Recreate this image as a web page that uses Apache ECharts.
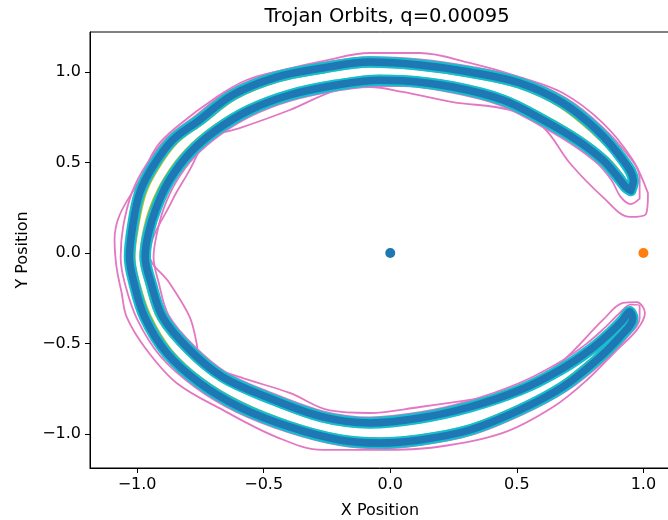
<!DOCTYPE html>
<html>
<head>
<meta charset="utf-8">
<script src="https://cdn.jsdelivr.net/npm/echarts@6/dist/echarts.min.js"></script>
<style>
  html, body { margin: 0; padding: 0; background: #fff; }
  #main { width: 668px; height: 520px; }
</style>
</head>
<body>
<div id="main"></div>
<script>
// tick positions on both axes
var tickValues = [-1.0, -0.5, 0.0, 0.5, 1.0];

// main horseshoe track (blue / cyan)
var bandPath = [
  [0.950, 0.345], [0.960, 0.400], [0.919, 0.514], [0.816, 0.680], [0.682, 0.829],
  [0.512, 0.939], [0.314, 1.000], [0.117, 1.039], [-0.081, 1.055], [-0.267, 1.022],
  [-0.449, 0.972], [-0.623, 0.873], [-0.753, 0.735], [-0.860, 0.624], [-0.939, 0.475],
  [-0.990, 0.331], [-1.018, 0.144], [-1.030, -0.022], [-1.012, -0.166], [-0.970, -0.354],
  [-0.883, -0.552], [-0.753, -0.718], [-0.595, -0.851], [-0.397, -0.961], [-0.200, -1.033],
  [-0.042, -1.050], [0.117, -1.033], [0.314, -0.978], [0.512, -0.867], [0.682, -0.740],
  [0.816, -0.591], [0.907, -0.464], [0.958, -0.360], [0.945, -0.325], [0.919, -0.370],
  [0.868, -0.442], [0.789, -0.536], [0.670, -0.646], [0.512, -0.757], [0.314, -0.851],
  [0.117, -0.912], [-0.081, -0.939], [-0.267, -0.906], [-0.488, -0.796], [-0.662, -0.685],
  [-0.792, -0.536], [-0.899, -0.354], [-0.945, -0.166], [-0.968, -0.022], [-0.955, 0.110],
  [-0.923, 0.254], [-0.872, 0.403], [-0.792, 0.552], [-0.686, 0.680], [-0.555, 0.790],
  [-0.397, 0.873], [-0.211, 0.928], [-0.042, 0.955], [0.049, 0.952], [0.247, 0.917],
  [0.445, 0.845], [0.603, 0.735], [0.737, 0.624], [0.840, 0.514], [0.899, 0.420],
  [0.930, 0.365], [0.950, 0.345]
];

// slightly narrower orbit (olive)
var olivePath = [
  [0.942, 0.362], [0.945, 0.410], [0.902, 0.515], [0.800, 0.665], [0.670, 0.810],
  [0.505, 0.918], [0.312, 0.978], [0.117, 1.017], [-0.081, 1.033], [-0.262, 1.000],
  [-0.440, 0.951], [-0.608, 0.856], [-0.737, 0.721], [-0.842, 0.612], [-0.919, 0.466],
  [-0.969, 0.325], [-0.998, 0.142], [-1.012, -0.022], [-0.994, -0.164], [-0.950, -0.345],
  [-0.866, -0.538], [-0.740, -0.700], [-0.585, -0.830], [-0.392, -0.939], [-0.198, -1.011],
  [-0.042, -1.028], [0.117, -1.011], [0.310, -0.957], [0.503, -0.848], [0.668, -0.725],
  [0.800, -0.580], [0.890, -0.458], [0.942, -0.362], [0.935, -0.340], [0.905, -0.382],
  [0.855, -0.455], [0.776, -0.551], [0.658, -0.662], [0.505, -0.776], [0.312, -0.872],
  [0.117, -0.933], [-0.081, -0.960], [-0.270, -0.927], [-0.495, -0.815], [-0.673, -0.700],
  [-0.806, -0.549], [-0.916, -0.362], [-0.962, -0.170], [-0.985, -0.022], [-0.974, 0.112],
  [-0.944, 0.260], [-0.890, 0.414], [-0.808, 0.566], [-0.699, 0.697], [-0.565, 0.809],
  [-0.403, 0.893], [-0.214, 0.949], [-0.042, 0.976], [0.049, 0.974], [0.250, 0.938],
  [0.452, 0.864], [0.615, 0.752], [0.752, 0.638], [0.856, 0.525], [0.918, 0.425],
  [0.942, 0.362]
];

// wide pink orbit with chords and tip loops
var pinkWide = [
  [1.018, 0.331], [0.958, 0.514], [0.840, 0.718], [0.682, 0.884], [0.512, 0.972],
  [0.314, 1.050], [0.117, 1.105], [-0.081, 1.105], [-0.267, 1.060], [-0.425, 1.011],
  [-0.567, 0.956], [-0.686, 0.862], [-0.844, 0.696], [-0.923, 0.586], [-0.990, 0.403],
  [-1.069, 0.210], [-1.089, 0.072], [-1.081, -0.080], [-1.061, -0.221], [-1.041, -0.354],
  [-0.962, -0.536], [-0.844, -0.718], [-0.662, -0.867], [-0.449, -1.017], [-0.267, -1.088],
  [-0.042, -1.088], [0.184, -1.072], [0.445, -0.994], [0.643, -0.851], [0.777, -0.702],
  [0.895, -0.536], [0.974, -0.425], [1.006, -0.331], [0.974, -0.271], [0.919, -0.276],
  [0.840, -0.370], [0.670, -0.610], [0.512, -0.735], [0.445, -0.780], [0.314, -0.812],
  [0.117, -0.851], [-0.081, -0.884], [-0.239, -0.870], [-0.397, -0.773], [-0.595, -0.685],
  [-0.753, -0.591], [-0.765, -0.497], [-0.792, -0.354], [-0.872, -0.166], [-0.951, -0.010],
  [-0.860, 0.293], [-0.792, 0.459], [-0.753, 0.569], [-0.725, 0.635], [-0.595, 0.690],
  [-0.397, 0.790], [-0.211, 0.900], [-0.081, 0.917], [0.049, 0.890], [0.247, 0.834],
  [0.472, 0.790], [0.603, 0.696], [0.709, 0.497], [0.840, 0.309], [0.947, 0.199],
  [1.010, 0.215], [1.018, 0.331]
];

// pink orbit hugging the band
var pinkNear = [
  [0.985, 0.300], [0.985, 0.420], [0.945, 0.530], [0.835, 0.700], [0.695, 0.855],
  [0.520, 0.965], [0.318, 1.030], [0.117, 1.070], [-0.081, 1.082], [-0.272, 1.050],
  [-0.460, 0.998], [-0.640, 0.895], [-0.775, 0.752], [-0.882, 0.636], [-0.965, 0.485],
  [-1.020, 0.335], [-1.055, 0.146], [-1.065, -0.022], [-1.048, -0.170], [-1.000, -0.365],
  [-0.908, -0.570], [-0.772, -0.740], [-0.608, -0.878], [-0.404, -0.990], [-0.202, -1.062],
  [-0.042, -1.080], [0.117, -1.062], [0.320, -1.005], [0.525, -0.890], [0.700, -0.758],
  [0.838, -0.605], [0.932, -0.470], [0.985, -0.360], [0.985, -0.290], [0.950, -0.285],
  [0.900, -0.340], [0.850, -0.410], [0.772, -0.505], [0.655, -0.615], [0.500, -0.725],
  [0.305, -0.820], [0.117, -0.880], [-0.081, -0.908], [-0.262, -0.876], [-0.478, -0.768],
  [-0.648, -0.660], [-0.772, -0.518], [-0.875, -0.345], [-0.915, -0.162], [-0.935, -0.022],
  [-0.922, 0.106], [-0.895, 0.245], [-0.848, 0.388], [-0.772, 0.532], [-0.670, 0.655],
  [-0.545, 0.760], [-0.392, 0.842], [-0.208, 0.897], [-0.042, 0.922], [0.049, 0.922],
  [0.244, 0.886], [0.435, 0.816], [0.588, 0.708], [0.718, 0.600], [0.818, 0.495],
  [0.875, 0.400], [0.910, 0.310], [0.950, 0.270], [0.985, 0.300]
];

// the two bodies
var sunPos = [[0, 0]];
var planetPos = [[1, 0]];

var myChart = echarts.init(document.getElementById('main'), null, { renderer: 'canvas' });

var fontName = 'DejaVu Sans';
function tickFmt(v) {
  return (v < 0 ? '\u2212' : '') + Math.abs(v).toFixed(1);
}

function orbit(data, color, width) {
  return {
    type: 'line',
    data: data,
    showSymbol: false,
    smooth: 0.35,
    silent: true,
    animation: false,
    lineStyle: { color: color, width: width, cap: 'round', join: 'round' }
  };
}

var option = {
  animation: false,
  backgroundColor: '#fff',
  title: {
    text: 'Trojan Orbits, q=0.00095',
    left: 382,
    top: 2,
    textAlign: 'center',
    textStyle: { fontFamily: fontName, fontSize: 19.5, fontWeight: 'normal', color: '#000' }
  },
  grid: {
    left: 90, right: -2, top: 32, bottom: 52,
    outerBoundsMode: 'none',
    containLabel: false,
    show: true, borderColor: '#000', borderWidth: 1, backgroundColor: 'transparent'
  },
  xAxis: {
    type: 'value',
    min: -1.186, max: 1.105,
    name: 'X Position',
    nameLocation: 'middle',
    nameGap: 35,
    nameTextStyle: { fontFamily: fontName, fontSize: 16, color: '#000' },
    axisLine: { show: true, onZero: false, lineStyle: { color: '#000', width: 1 } },
    axisTick: { show: true, customValues: tickValues, length: 5, lineStyle: { color: '#000' } },
    axisLabel: { customValues: tickValues, formatter: tickFmt, margin: 9,
      fontFamily: fontName, fontSize: 16, color: '#000' },
    splitLine: { show: false }
  },
  yAxis: {
    type: 'value',
    min: -1.188, max: 1.221,
    name: 'Y Position',
    nameLocation: 'middle',
    nameGap: 59,
    nameTextStyle: { fontFamily: fontName, fontSize: 16, color: '#000' },
    axisLine: { show: true, onZero: false, lineStyle: { color: '#000', width: 1 } },
    axisTick: { show: true, customValues: tickValues, length: 5, lineStyle: { color: '#000' } },
    axisLabel: { customValues: tickValues, formatter: tickFmt, margin: 9,
      fontFamily: fontName, fontSize: 16, color: '#000' },
    splitLine: { show: false }
  },
  series: [
    orbit(pinkWide, '#e377c2', 1.8),
    orbit(pinkNear, '#e377c2', 1.8),
    orbit(olivePath, '#bcbd22', 3),
    orbit(bandPath, '#17becf', 11.5),
    orbit(bandPath, '#1f77b4', 7.5),
    {
      type: 'scatter', data: sunPos, symbolSize: 10, silent: true,
      itemStyle: { color: '#1f77b4', opacity: 1 }
    },
    {
      type: 'scatter', data: planetPos, symbolSize: 10, silent: true,
      itemStyle: { color: '#ff7f0e', opacity: 1 }
    }
  ]
};

myChart.setOption(option);
</script>
</body>
</html>
